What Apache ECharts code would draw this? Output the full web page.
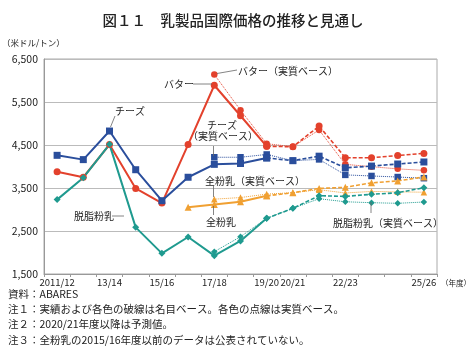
<!DOCTYPE html>
<html><head><meta charset="utf-8">
<script src="https://cdn.jsdelivr.net/npm/echarts@6/dist/echarts.min.js"></script>
<style>html,body{margin:0;padding:0;background:#fff}#c{width:467px;height:356px}</style>
</head><body><div id="c"></div>
<script>
const categories = ["2011/12","12/13","13/14","14/15","15/16","16/17","17/18","18/19","19/20","20/21","21/22","22/23","23/24","24/25","25/26"];
const tickLabels = ["2011/12","","13/14","","15/16","","17/18","","19/20","20/21","","22/23","","","25/26"];
const yTicks = [1500, 2500, 3500, 4500, 5500, 6500];
const butterNominal = [3880,3750,4510,3490,3150,4510,5890,5180,4470,4460,4940,4205,4205,4255,4305];
const butterReal    = [null,null,null,null,null,null,6140,5310,4530,4460,4850,4050,3995,3945,3910];
const cheeseNominal = [4260,4160,4825,3925,3205,3750,4050,4070,4200,4135,4240,3970,4010,4058,4105];
const cheeseReal    = [null,null,null,null,null,null,4215,4215,4280,4135,4165,3805,3780,3755,3728];
const smpNominal    = [3230,3740,4515,2585,1980,2360,1926,2270,2795,3028,3321,3305,3353,3390,3507];
const smpReal       = [null,null,null,null,null,null,2019,2367,2795,3028,3250,3180,3158,3144,3174];
const wmpNominal    = [null,null,null,null,null,3055,3115,3182,3318,3391,3490,3516,3620,3665,3756];
const wmpReal       = [null,null,null,null,null,null,3240,3278,3358,3391,3460,3384,3420,3410,3402];
const lastActual = "19/20";

const FONT = '"Noto Sans CJK JP", sans-serif';
const splitIdx = categories.indexOf(lastActual);
const products = [
  {name:"バター", nom:butterNominal, real:butterReal, color:"#e3412c", symbol:"circle", size:7},
  {name:"チーズ", nom:cheeseNominal, real:cheeseReal, color:"#2a4e9c", symbol:"rect", size:7},
  {name:"全粉乳", nom:wmpNominal, real:wmpReal, color:"#f0a032", symbol:"triangle", size:7},
  {name:"脱脂粉乳", nom:smpNominal, real:smpReal, color:"#1f9a8f", symbol:"diamond", size:7}
];
const series = [];
products.forEach(p => {
  series.push({name:p.name+"（実質ベース）", type:"line", data:p.real, symbol:p.symbol, symbolSize:p.size-0.5,
    itemStyle:{color:p.color}, lineStyle:{color:p.color, width:1, type:"dotted"}, animation:false, z:2});
  series.push({name:p.name+"予測", type:"line", data:p.nom.map((v,i)=> i>=splitIdx ? v : null), symbol:p.symbol, symbolSize:p.size,
    itemStyle:{color:p.color}, lineStyle:{color:p.color, width:1.6, type:[4,2]}, animation:false, z:3});
  series.push({name:p.name, type:"line", data:p.nom.map((v,i)=> i<=splitIdx ? v : null), symbol:p.symbol, symbolSize:p.size,
    itemStyle:{color:p.color}, lineStyle:{color:p.color, width:2}, animation:false, z:4});
});

function txt(text, x, y, size, align, weight){
  return {type:"text", style:{text:text, x:x, y:y, fontSize:size, fontFamily:FONT, fontWeight:weight||"normal", fill:"#222", align:align||"left", verticalAlign:"middle"}, z:10};
}
function ln(x1,y1,x2,y2){
  return {type:"line", shape:{x1:x1,y1:y1,x2:x2,y2:y2}, style:{stroke:"#666", lineWidth:0.8}, z:10};
}

const chart = echarts.init(document.getElementById("c"));
chart.setOption({
  animation:false,
  textStyle:{fontFamily:FONT},
  grid:{left:44, right:30, top:59, bottom:82, show:true, borderColor:"#aaa", borderWidth:1},
  xAxis:{type:"category", data:categories, boundaryGap:true,
    axisLine:{lineStyle:{color:"#999"}}, axisTick:{show:true, length:3, lineStyle:{color:"#999"}},
    axisLabel:{interval:0, fontSize:9.5, color:"#222", margin:4, formatter:(v,i)=>tickLabels[i]}},
  yAxis:{type:"value", min:yTicks[0], max:yTicks[yTicks.length-1], interval:1000,
    axisLine:{show:true, lineStyle:{color:"#999"}}, axisTick:{show:false},
    splitLine:{lineStyle:{color:"#bbb", width:1}},
    axisLabel:{fontSize:10.5, color:"#222", margin:6, formatter:v=>v.toLocaleString("en-US")}},
  series:series,
  graphic:[
    txt("図１１　乳製品国際価格の推移と見通し", 233, 20, 14.5, "center", 500),
    txt("（米ドル/トン）", 2, 43, 8.5),
    txt("（年度）", 441, 283, 7.5),
    txt("資料：ABARES", 8, 294, 10.5),
    txt("注１：実績および各色の破線は名目ベース。各色の点線は実質ベース。", 8, 309, 10.5),
    txt("注２：2020/21年度以降は予測値。", 8, 324, 10.5),
    txt("注３：全粉乳の2015/16年度以前のデータは公表されていない。", 8, 340, 10.5),
    txt("チーズ", 115, 111, 10),
    ln(115,116,110.5,127),
    txt("バター", 164, 84, 10),
    ln(193,84,212,84),
    txt("バター（実質ベース）", 238, 71, 10),
    ln(237,70,217,73.5),
    txt("チーズ", 222, 125, 10, "center"),
    txt("（実質ベース）", 223, 136, 10, "center"),
    ln(213.5,146,213.5,156),
    txt("全粉乳（実質ベース）", 205, 181, 10),
    ln(213.5,186,213.5,197),
    txt("全粉乳", 206, 222, 10),
    ln(213.5,206,213.5,215),
    txt("脱脂粉乳", 74, 216, 10),
    ln(112,216,124,216),
    txt("脱脂粉乳（実質ベース）", 333, 223, 10),
    ln(371,202,371,213)
  ]
});
</script></body></html>
